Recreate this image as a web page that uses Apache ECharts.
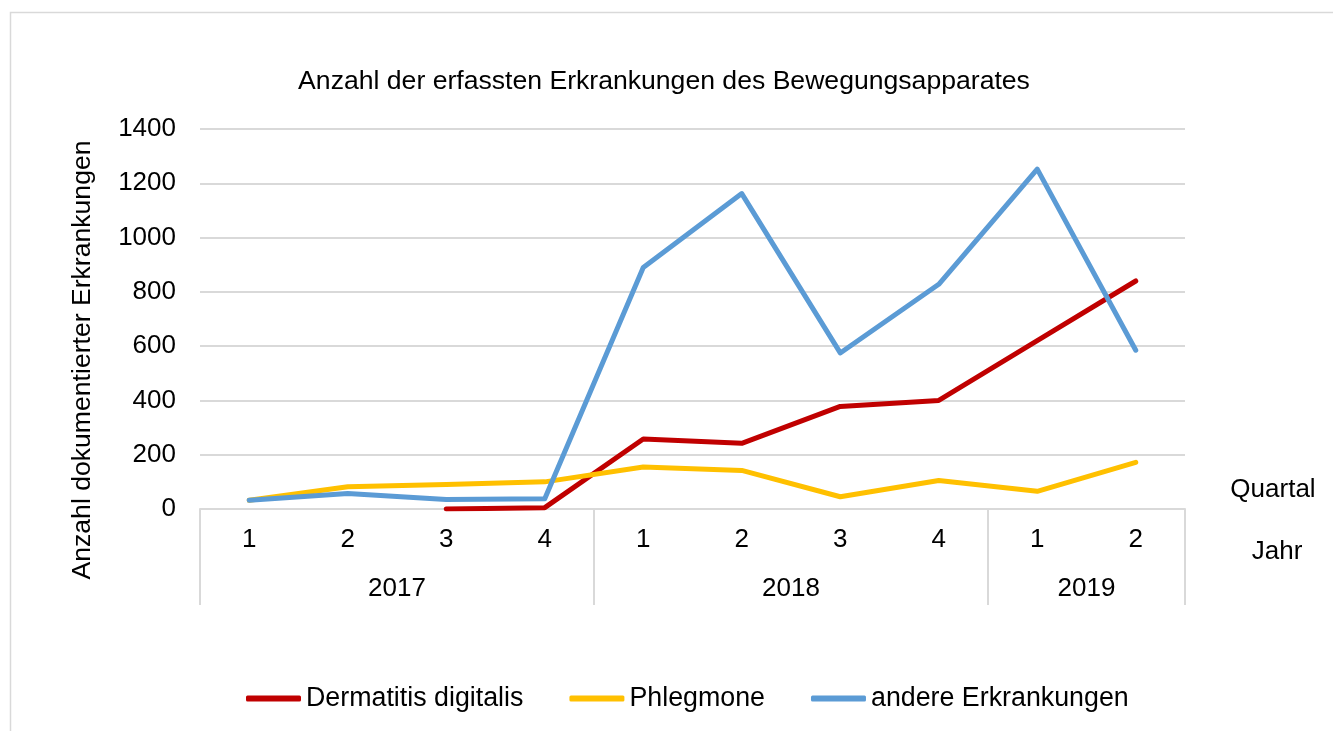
<!DOCTYPE html>
<html>
<head>
<meta charset="utf-8">
<script src="https://cdn.jsdelivr.net/npm/echarts@6/dist/echarts.min.js"></script>
<style>
  html, body { margin: 0; padding: 0; background: #fff; }
  #chart { width: 1333px; height: 731px; }
</style>
</head>
<body>
<div id="chart"></div>
<script>
// Daten
const quarters = ['1', '2', '3', '4', '1', '2', '3', '4', '1', '2'];
const years = ['2017', '2018', '2019'];
const quartersPerYear = [4, 4, 2];
const dermatitis = [null, null, 0, 5, 258, 242, 378, 400, 620, 840];
const phlegmone = [32, 82, 90, 100, 155, 142, 45, 105, 65, 172];
const andere = [32, 57, 35, 38, 890, 1162, 575, 828, 1252, 585];
const yTicks = [0, 200, 400, 600, 800, 1000, 1200, 1400];

const FONT = '"Liberation Sans", Arial, sans-serif';
const GRID_COLOR = '#d9d9d9';
const FS = 26;

// Jahresachse: 2 Unterteilungen pro Quartal, Grenzen und Mitten der Jahre
const yearSlots = [];
const yearBounds = [0];
let pos = 0;
years.forEach((y, i) => {
  const n = quartersPerYear[i] * 2;
  for (let k = 0; k < n; k++) {
    yearSlots.push(k === n / 2 ? y : '');
  }
  pos += n;
  yearBounds.push(pos);
});
yearSlots.push('');

const chart = echarts.init(document.getElementById('chart'));

const option = {
  backgroundColor: '#fff',
  textStyle: { fontFamily: FONT },
  title: [
    {
      text: 'Anzahl der erfassten Erkrankungen des Bewegungsapparates',
      left: 659, top: 63, textAlign: 'center',
      textStyle: { fontFamily: FONT, fontSize: 26.6, fontWeight: 'normal', color: '#000' }
    },
    {
      text: 'Quartal', left: 1268, top: 472, textAlign: 'center',
      textStyle: { fontFamily: FONT, fontSize: FS, fontWeight: 'normal', color: '#000' }
    },
    {
      text: 'Jahr', left: 1272, top: 534, textAlign: 'center',
      textStyle: { fontFamily: FONT, fontSize: FS, fontWeight: 'normal', color: '#000' }
    }
  ],
  graphic: [
    {
      type: 'rect', silent: true,
      shape: { x: 10.5, y: 12.5, width: 1400, height: 800 },
      style: { fill: 'none', stroke: GRID_COLOR, lineWidth: 1.5 }
    },
    {
      type: 'text', silent: true,
      x: 83, y: 360, rotation: Math.PI / 2,
      style: {
        text: 'Anzahl dokumentierter Erkrankungen',
        font: '26.6px ' + FONT, fill: '#000',
        align: 'center', verticalAlign: 'middle'
      }
    }
  ],
  legend: {
    bottom: 14,
    left: 241,
    icon: 'roundRect',
    itemWidth: 55,
    itemHeight: 6,
    itemGap: 46,
    textStyle: { fontFamily: FONT, fontSize: 26.8, color: '#000', padding: [0, 0, 0, 0] },
    data: ['Dermatitis digitalis', 'Phlegmone', 'andere Erkrankungen']
  },
  grid: { left: 200, right: 148, top: 129, bottom: 222, containLabel: false },
  xAxis: [
    {
      type: 'category',
      data: quarters,
      boundaryGap: true,
      axisLine: { lineStyle: { color: GRID_COLOR, width: 2 } },
      axisTick: { show: false },
      axisLabel: { interval: 0, margin: 18, fontFamily: FONT, fontSize: FS, color: '#000' }
    },
    {
      type: 'category',
      data: yearSlots,
      boundaryGap: false,
      position: 'bottom',
      axisLine: { show: false },
      axisTick: {
        show: true, length: 96, inside: false,
        interval: (i) => yearBounds.includes(i),
        lineStyle: { color: GRID_COLOR, width: 2 }
      },
      axisLabel: { interval: 0, margin: 67, fontFamily: FONT, fontSize: FS, color: '#000' },
      splitLine: { show: false }
    }
  ],
  yAxis: {
    type: 'value',
    min: yTicks[0],
    max: yTicks[yTicks.length - 1],
    interval: yTicks[1] - yTicks[0],
    axisLine: { show: false },
    axisTick: { show: false },
    axisLabel: {
      margin: 24, fontFamily: FONT, fontSize: FS, color: '#000',
      formatter: (v) => String(v)
    },
    splitLine: { lineStyle: { color: GRID_COLOR, width: 2 } }
  },
  series: [
    {
      name: 'Dermatitis digitalis', type: 'line', data: dermatitis,
      symbol: 'none', color: '#C00000',
      lineStyle: { width: 5, cap: 'round', join: 'round' }
    },
    {
      name: 'Phlegmone', type: 'line', data: phlegmone,
      symbol: 'none', color: '#FFC000',
      lineStyle: { width: 5, cap: 'round', join: 'round' }
    },
    {
      name: 'andere Erkrankungen', type: 'line', data: andere,
      symbol: 'none', color: '#5B9BD5',
      lineStyle: { width: 5, cap: 'round', join: 'round' }
    }
  ]
};

chart.setOption(option);
</script>
</body>
</html>
